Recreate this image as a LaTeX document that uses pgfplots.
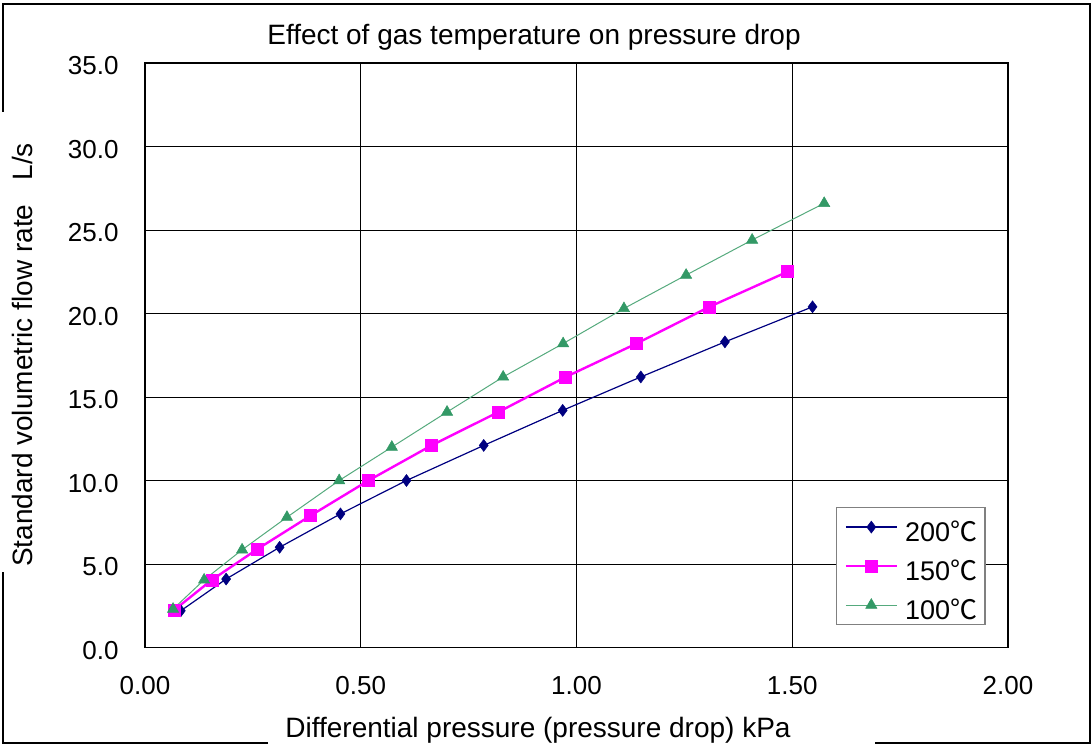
\documentclass[border=0pt]{standalone}
\usepackage{pgfplots}
\pgfplotsset{compat=1.18}
\usepackage{fontspec}
\setmainfont{Liberation Sans}
\newfontfamily\cjk{Noto Sans CJK JP}
\newcommand{\degC}{{\cjk ℃}}

\definecolor{ser200}{RGB}{0,0,128}
\definecolor{ser150}{RGB}{255,0,255}
\definecolor{ser100}{RGB}{51,153,102}
\definecolor{ln100}{RGB}{85,170,125}

\begin{document}
\begin{tikzpicture}[x=1pt,y=1pt]
\useasboundingbox (0,0) rectangle (1092,745);
% outer chart frame, broken where the axis labels sit
\draw[line width=2pt] (3,633) -- (3,741) -- (1090,741) -- (1090,2) -- (875,2);
\draw[line width=2pt] (268,2) -- (3,2) -- (3,173);

\begin{axis}[
    at={(145pt,97.5pt)}, anchor=south west,
    scale only axis,
    width=863pt, height=584.5pt,
    xmin=0, xmax=2, ymin=0, ymax=35,
    xtick={0,0.5,1,1.5,2},
    ytick={0,5,10,15,20,25,30,35},
    grid=major,
    major grid style={black, line width=0.8pt},
    axis line style={black, line width=1.6pt},
    tick style={draw=none},
    /pgf/number format/assume math mode=true,
    ticklabel style={font=\fontsize{26}{30}\selectfont},
    xticklabel style={/pgf/number format/.cd, fixed, fixed zerofill, precision=2, /tikz/.cd, yshift=-25pt},
    yticklabel style={/pgf/number format/.cd, fixed, fixed zerofill, precision=1, /tikz/.cd, xshift=-23pt, yshift=-3pt},
    legend cell align=left,
    legend image code/.code={\draw[mark repeat=2, mark phase=2, #1] plot coordinates {(0pt,0pt) (25.5pt,0pt) (51pt,0pt)};},
    legend style={at={(0.8007,0.2404)}, anchor=north west,
        draw=gray, line width=1.2pt, fill=white,
        font=\fontsize{27}{30}\selectfont,
        inner xsep=8pt, inner ysep=5.5pt,
        nodes={inner sep=0pt, text height=28pt, text depth=0pt},
        row sep=11pt, column sep=7pt},
]
% 200 C
\addplot[color=ser200, line width=1.2pt, mark=diamond*, mark size=6pt,
    mark options={solid, fill=ser200, line width=0.5pt}] coordinates {
    (0.083,2.2) (0.188,4.1) (0.312,6.0) (0.453,8.0) (0.606,10.0)
    (0.785,12.1) (0.968,14.2) (1.149,16.2) (1.344,18.3) (1.547,20.4)
};
\addlegendentry{200\degC}
% 150 C
\addplot[color=ser150, line width=2.4pt, mark=square*, mark size=6pt,
    mark options={solid, fill=ser150, line width=0.5pt}] coordinates {
    (0.068,2.25) (0.155,4.05) (0.261,5.9) (0.384,7.9) (0.518,10.0)
    (0.664,12.1) (0.819,14.1) (0.975,16.2) (1.139,18.2) (1.308,20.4) (1.489,22.5)
};
\addlegendentry{150\degC}
% 100 C
\addplot[color=ln100, line width=1pt, mark=triangle*, mark size=6.5pt,
    mark options={solid, fill=ser100, draw=ser100, line width=0.5pt}] coordinates {
    (0.065,2.3) (0.137,4.05) (0.225,5.85) (0.329,7.8) (0.450,10.0)
    (0.572,12.0) (0.700,14.1) (0.830,16.2) (0.969,18.2) (1.110,20.3)
    (1.254,22.3) (1.407,24.4) (1.574,26.6)
};
\addlegendentry{100\degC}
\end{axis}

\node[anchor=base, font=\fontsize{28}{32}\selectfont] at (534,700) {Effect of gas temperature on pressure drop};
\node[anchor=base, font=\fontsize{28}{32}\selectfont] at (538,8) {Differential pressure (pressure drop) kPa};
\node[anchor=base, rotate=90, font=\fontsize{28}{32}\selectfont] at (32,390) {Standard volumetric flow rate\hspace{24pt}L/s};
\end{tikzpicture}
\end{document}
